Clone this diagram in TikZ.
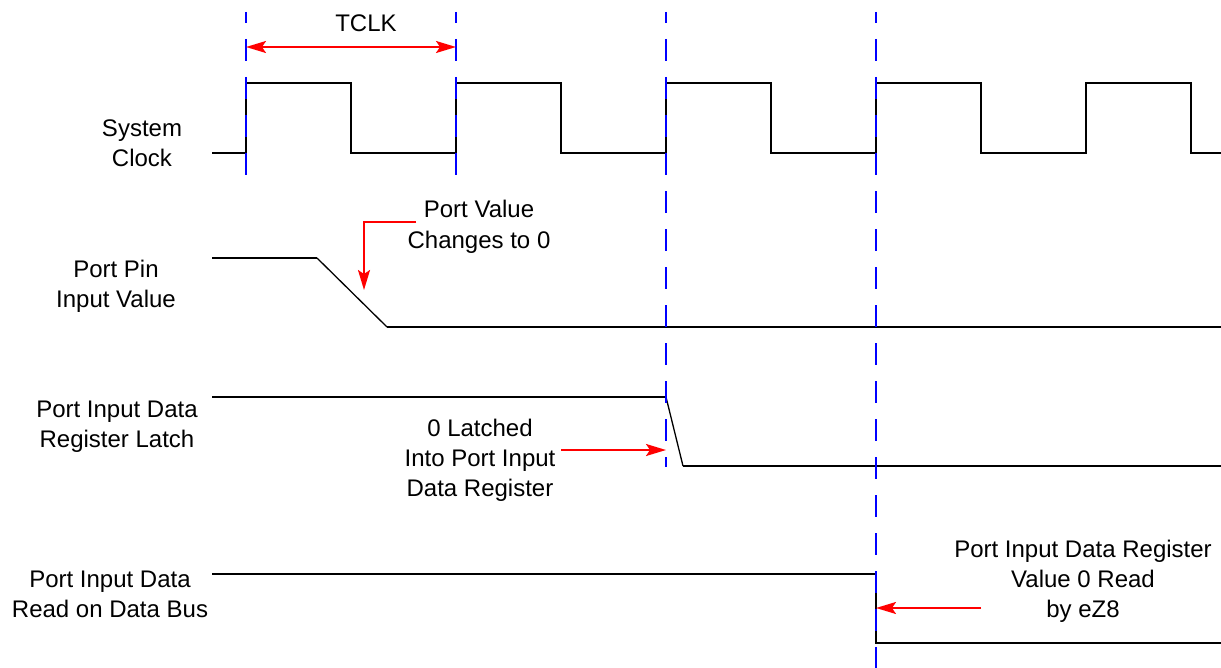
\documentclass[tikz,border=0pt]{standalone}
\usepackage{fontspec}
\setmainfont{Liberation Sans}
\usetikzlibrary{
  arrows.meta % for arrow tips
}
\tikzstyle{signal}=[draw=black, line width=2bp]
\tikzstyle{slope}=[draw=black, line width=1.3bp]
\tikzstyle{clkedge}=[draw=blue, line width=2bp, dash pattern=on 22bp off 16bp, dash phase=11bp]
\tikzstyle{callout}=[draw=red, line width=2bp]
\tikzstyle{tracename}=[align=center, anchor=base, inner sep=0pt, font=\fontsize{24bp}{30bp}\selectfont]
\tikzstyle{note}=[tracename]

\begin{document}
\begin{tikzpicture}[x=1bp,y=-1bp]
\useasboundingbox (0,0) rectangle (1221,668);
% trace names on the left (base = last line)
\node[tracename] (clkname) at (142,167) {System\\Clock};
\node[tracename] (pinname) at (116,307) {Port Pin\\Input Value};
\node[tracename] (latchname) at (117,447) {Port Input Data\\Register Latch};
\node[tracename] (busname) at (110,617) {Port Input Data\\Read on Data Bus};

% system clock
\draw[signal] (212,153) -- (246,153) -- (246,83) -- (351,83) -- (351,153)
  -- (456,153) -- (456,83) -- (561,83) -- (561,153)
  -- (666,153) -- (666,83) -- (771,83) -- (771,153)
  -- (876,153) -- (876,83) -- (981,83) -- (981,153)
  -- (1086,153) -- (1086,83) -- (1191,83) -- (1191,153) -- (1221,153);

% port pin goes low
\coordinate (pinhi) at (317,258);
\coordinate (pinlo) at (387,327);
\draw[signal] (212,258) -- (pinhi);
\draw[slope] (pinhi) -- (pinlo);
\draw[signal] (pinlo) -- (1221,327);

% latch follows on the third rising edge
\coordinate (latchhi) at (666,397);
\coordinate (latchlo) at (683,466);
\draw[signal] (212,397) -- (latchhi);
\draw[slope] (latchhi) -- (latchlo);
\draw[signal] (latchlo) -- (1221,466);

% data bus read on the fourth rising edge
\draw[signal] (212,574) -- (876,574) -- (876,643) -- (1221,643);

% rising edge markers
\draw[clkedge] (246,12) -- (246,188);
\draw[clkedge] (456,12) -- (456,188);
\draw[clkedge] (666,12) -- (666,467);
\draw[clkedge] (876,12) -- (876,668);

% notes and their arrows
\node[note] (tclk) at (366,32) {TCLK};
\coordinate (tclkl) at (246,47);
\coordinate (tclkr) at (456,47);
\draw[callout,{Stealth[length=20bp,width=12bp,inset=4bp]}-{Stealth[length=20bp,width=12bp,inset=4bp]}] (tclkl) -- (tclkr);

\node[note] (pinnote) at (479,248) {Port Value\\Changes to 0};
\coordinate (pinfrom) at (416,222);
\coordinate (pinto) at (364,290);
\draw[callout,-{Stealth[length=20bp,width=12bp,inset=4bp]}] (pinfrom) -| (pinto);

\node[note] (latchnote) at (480,496) {0 Latched\\Into Port Input\\Data Register};
\coordinate (latchfrom) at (561,450);
\coordinate (latchto) at (666,450);
\draw[callout,-{Stealth[length=20bp,width=12bp,inset=4bp]}] (latchfrom) -- (latchto);

\node[note] (busnote) at (1083,617) {Port Input Data Register\\Value 0 Read\\by eZ8};
\coordinate (busfrom) at (981,608);
\coordinate (busto) at (876,608);
\draw[callout,-{Stealth[length=20bp,width=12bp,inset=4bp]}] (busfrom) -- (busto);
\end{tikzpicture}
\end{document}
